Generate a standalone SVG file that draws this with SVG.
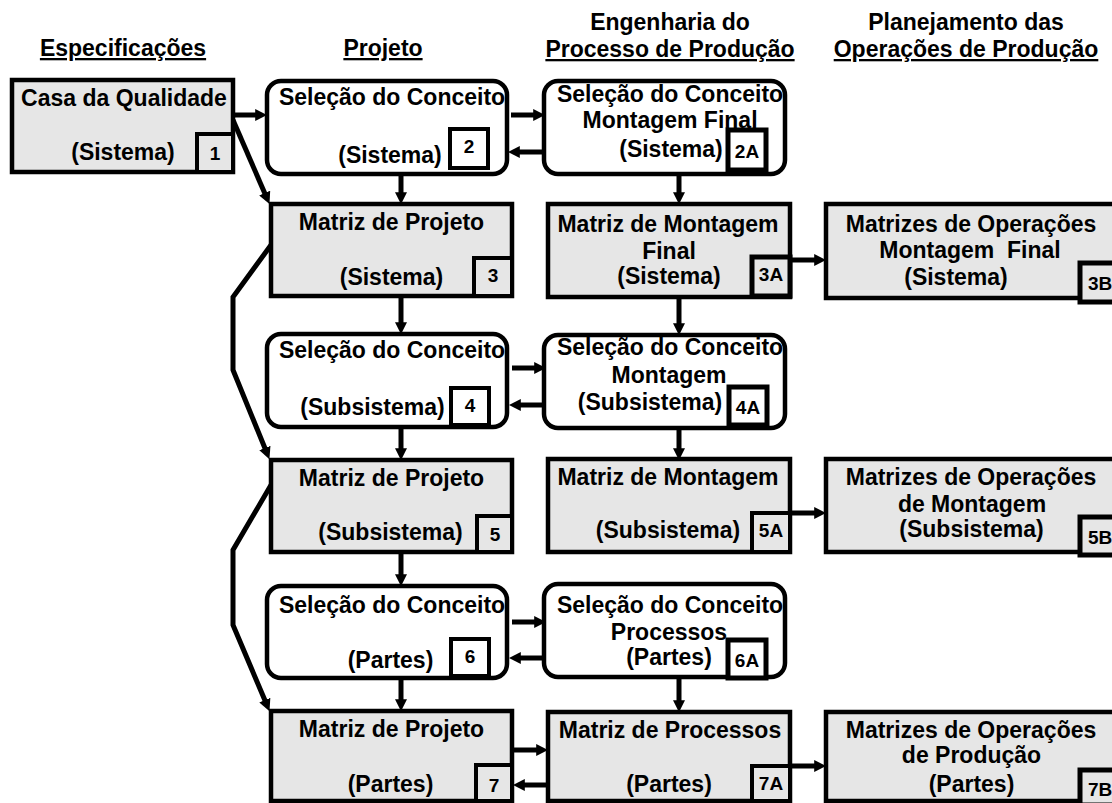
<svg xmlns="http://www.w3.org/2000/svg" width="1112" height="803" viewBox="0 0 1112 803">
<style>
text{font-family:"Liberation Sans",Arial,sans-serif;font-weight:bold;fill:#000}
.h{font-size:23px;text-anchor:middle}
.u{text-decoration:underline}
.t{font-size:23px;text-anchor:middle}
.b{font-size:19px;text-anchor:middle}
.g{fill:#e6e6e6;stroke:#000;stroke-width:4.5}
.w{fill:#fff;stroke:#000;stroke-width:4.5}
.bg{fill:#e6e6e6;stroke:#000;stroke-width:4}
.bw{fill:#fff;stroke:#000;stroke-width:4}
.bk{fill:none;stroke:#000;stroke-width:5}
.c{fill:none;stroke:#000;stroke-width:5;marker-end:url(#ah)}
</style>
<defs>
<marker id="ah" markerUnits="userSpaceOnUse" markerWidth="12" markerHeight="12" refX="4" refY="5" orient="auto" viewBox="0 0 10 10">
<path d="M0,0 L10,5 L0,10 z" fill="#000"/>
</marker>
</defs>

<g id="headers">
<text class="h u" x="123" y="56">Especificações</text>
<text class="h u" x="383" y="56">Projeto</text>
<text class="h" x="670" y="30">Engenharia do</text>
<text class="h u" x="670" y="57">Processo de Produção</text>
<text class="h" x="966" y="30">Planejamento das</text>
<text class="h u" x="966" y="57">Operações de Produção</text>
</g>

<g id="connectors">
<path class="c" d="M235,115 L260,115"/>
<path class="c" d="M233,120 L266.6,197.5"/>
<path class="c" d="M401,176 L401,197"/>
<path class="c" d="M511,115 L538,115"/>
<path class="c" d="M542,152 L515,152"/>
<path class="c" d="M679,176 L679,197"/>
<path class="c" d="M401,297 L401,327"/>
<path class="c" d="M271,245 L233,297 L233,370 L266.7,452.5"/>
<path class="c" d="M790,260 L819,260"/>
<path class="c" d="M679,298 L679,328"/>
<path class="c" d="M512,368 L539,368"/>
<path class="c" d="M543,405 L516,405"/>
<path class="c" d="M401,428 L401,453"/>
<path class="c" d="M679,429 L679,453"/>
<path class="c" d="M271,485 L233,550 L233,625 L266.7,704.5"/>
<path class="c" d="M401,553 L401,579"/>
<path class="c" d="M790,513 L819,513"/>
<path class="c" d="M512,622 L539,622"/>
<path class="c" d="M543,658 L516,658"/>
<path class="c" d="M401,679 L401,704"/>
<path class="c" d="M679,678 L679,705"/>
<path class="c" d="M513,750 L541,750"/>
<path class="c" d="M548,785 L520,785"/>
<path class="c" d="M790,766 L819,766"/>
</g>

<g id="n1">
<rect class="g" x="12" y="80" width="221" height="92"/>
<rect class="bg" x="197" y="134" width="36" height="38"/>
<text class="t" x="124" y="106">Casa da Qualidade</text>
<text class="t" x="123" y="160">(Sistema)</text>
<text class="b" x="215" y="160">1</text>
</g>

<g id="n2">
<rect class="w" x="267" y="81" width="240" height="93" rx="14"/>
<rect class="bw" x="450" y="129" width="38" height="39"/>
<text class="t" x="392" y="105">Seleção do Conceito</text>
<text class="t" x="390" y="163">(Sistema)</text>
<text class="b" x="469" y="153">2</text>
</g>

<g id="n2a">
<rect class="w" x="544" y="81" width="241" height="93" rx="14"/>
<rect class="bk" x="728" y="130" width="38" height="40" style="fill:#fff"/>
<text class="t" x="670" y="102">Seleção do Conceito</text>
<text class="t" x="670" y="128">Montagem Final</text>
<text class="t" x="671" y="157">(Sistema)</text>
<text class="b" x="747" y="158">2A</text>
</g>

<g id="n3">
<rect class="g" x="271" y="204" width="241" height="92"/>
<rect class="bg" x="474" y="258" width="38" height="38"/>
<text class="t" x="391.5" y="230">Matriz de Projeto</text>
<text class="t" x="391.5" y="285">(Sistema)</text>
<text class="b" x="493" y="282">3</text>
</g>

<g id="n3a">
<rect class="g" x="548" y="204" width="242" height="93"/>
<rect class="bk" x="752" y="257" width="38" height="39" style="fill:#e6e6e6"/>
<text class="t" x="668" y="232">Matriz de Montagem</text>
<text class="t" x="669" y="259">Final</text>
<text class="t" x="669" y="284">(Sistema)</text>
<text class="b" x="771" y="281">3A</text>
</g>

<g id="n3b">
<rect class="g" x="826" y="204" width="300" height="94"/>
<rect class="bk" x="1080" y="263" width="40" height="39" style="fill:#e6e6e6"/>
<text class="t" x="971" y="232">Matrizes de Operações</text>
<text class="t" x="970" y="258" xml:space="preserve">Montagem  Final</text>
<text class="t" x="956" y="285">(Sistema)</text>
<text class="b" x="1088" y="290" style="text-anchor:start">3B</text>
</g>

<g id="n4">
<rect class="w" x="267" y="334" width="240" height="93" rx="14"/>
<rect class="bw" x="451" y="388" width="38" height="37"/>
<text class="t" x="392" y="358">Seleção do Conceito</text>
<text class="t" x="372.5" y="415">(Subsistema)</text>
<text class="b" x="470" y="412">4</text>
</g>

<g id="n4a">
<rect class="w" x="544" y="335" width="241" height="93" rx="14"/>
<rect class="bk" x="729" y="387" width="38" height="38" style="fill:#fff"/>
<text class="t" x="670" y="355">Seleção do Conceito</text>
<text class="t" x="669" y="383">Montagem</text>
<text class="t" x="650" y="410">(Subsistema)</text>
<text class="b" x="748" y="414">4A</text>
</g>

<g id="n5">
<rect class="g" x="271" y="460" width="241" height="92"/>
<rect class="bg" x="477" y="516" width="35" height="36"/>
<text class="t" x="391.5" y="486">Matriz de Projeto</text>
<text class="t" x="390.5" y="540">(Subsistema)</text>
<text class="b" x="495" y="541">5</text>
</g>

<g id="n5a">
<rect class="g" x="548" y="459" width="242" height="93"/>
<rect class="bg" x="752" y="513" width="38" height="39"/>
<text class="t" x="668" y="485">Matriz de Montagem</text>
<text class="t" x="668" y="538">(Subsistema)</text>
<text class="b" x="771" y="537">5A</text>
</g>

<g id="n5b">
<rect class="g" x="826" y="459" width="300" height="93"/>
<rect class="bk" x="1080" y="517" width="40" height="38" style="fill:#e6e6e6"/>
<text class="t" x="971" y="485">Matrizes de Operações</text>
<text class="t" x="972" y="512">de Montagem</text>
<text class="t" x="971.5" y="537">(Subsistema)</text>
<text class="b" x="1088" y="544" style="text-anchor:start">5B</text>
</g>

<g id="n6">
<rect class="w" x="267" y="586" width="240" height="92" rx="14"/>
<rect class="bw" x="451" y="639" width="38" height="37"/>
<text class="t" x="392" y="613">Seleção do Conceito</text>
<text class="t" x="390.5" y="668">(Partes)</text>
<text class="b" x="470" y="663">6</text>
</g>

<g id="n6a">
<rect class="w" x="544" y="584" width="241" height="93" rx="14"/>
<rect class="bk" x="728" y="640" width="38" height="38" style="fill:#fff"/>
<text class="t" x="670" y="613">Seleção do Conceito</text>
<text class="t" x="669" y="640">Processos</text>
<text class="t" x="669" y="665">(Partes)</text>
<text class="b" x="747" y="667">6A</text>
</g>

<g id="n7">
<rect class="g" x="271" y="711" width="241" height="90"/>
<rect class="bg" x="476" y="765" width="36" height="36"/>
<text class="t" x="391.5" y="737">Matriz de Projeto</text>
<text class="t" x="390.5" y="792">(Partes)</text>
<text class="b" x="494" y="792">7</text>
</g>

<g id="n7a">
<rect class="g" x="548" y="712" width="242" height="89"/>
<rect class="bg" x="752" y="766" width="38" height="35"/>
<text class="t" x="670" y="738">Matriz de Processos</text>
<text class="t" x="669" y="792">(Partes)</text>
<text class="b" x="771" y="790">7A</text>
</g>

<g id="n7b">
<rect class="g" x="826" y="712" width="300" height="89"/>
<rect class="bk" x="1080" y="770" width="40" height="35" style="fill:#e6e6e6"/>
<text class="t" x="971" y="738">Matrizes de Operações</text>
<text class="t" x="971.5" y="763">de Produção</text>
<text class="t" x="971.5" y="792">(Partes)</text>
<text class="b" x="1088" y="796" style="text-anchor:start">7B</text>
</g>
</svg>
